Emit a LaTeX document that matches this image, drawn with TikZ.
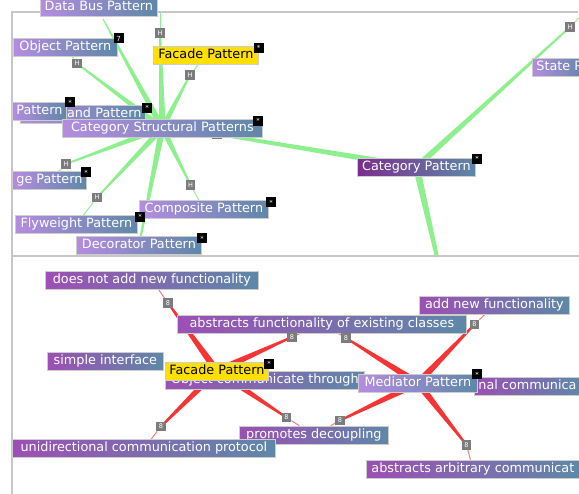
\documentclass[tikz,border=0pt]{standalone}
\usepackage{fontspec}
\setmainfont{DejaVu Sans}
\usepackage{tikz}
\usetikzlibrary{calc}
\definecolor{lilac}{HTML}{B48CE0}
\definecolor{steel}{HTML}{5E88A8}
\definecolor{plum}{HTML}{7B2D8E}
\definecolor{orchid}{HTML}{9C4FB4}
\definecolor{facadeyellow}{HTML}{FFE000}
\definecolor{linkgreen}{HTML}{8EEF8E}
\definecolor{linkred}{HTML}{F53535}
\definecolor{badgegray}{HTML}{7C7C7C}
\definecolor{framegray}{HTML}{C6C6C6}
\pgfdeclarelayer{back}
\pgfdeclarelayer{links}
\pgfsetlayers{back,links,main}
\tikzset{
  termbase/.style={
    anchor=west,
    inner xsep=4pt,
    inner ysep=2.6pt,
    text height=9.7pt,
    text depth=3pt,
    font=\fontsize{12.8}{14}\selectfont,
    draw=black!20,
    line width=0.8pt
  },
  term/.style={termbase, text=white, left color=lilac, right color=steel},
  dimterm/.style={termbase, text=white, left color=orchid, right color=steel},
  darkterm/.style={termbase, text=white, left color=plum, right color=steel},
  facade/.style={termbase, fill=facadeyellow, text=black},
  starbadge/.style={fill=black, text=white, font=\fontsize{7}{7}\selectfont, minimum size=10pt, inner sep=0pt},
  hbadge/.style={fill=badgegray, text=white, font=\fontsize{6.5}{7}\selectfont, minimum size=9.5pt, inner sep=0pt},
  tailgreen/.style={draw=linkgreen, line width=0.9pt},
  tailred/.style={draw=linkred!70, line width=0.9pt},
  frame/.style={draw=framegray, line width=1.2pt}
}
% tapered link: colour, hub, end, half width at hub, half width at end
\newcommand{\spoke}[5]{%
  \fill[#1] ($(#2.center)!#4!90:(#3.center)$) -- ($(#2.center)!#4!-90:(#3.center)$)
    -- ($(#3.center)!#5!90:(#2.center)$) -- ($(#3.center)!#5!-90:(#2.center)$) -- cycle;
}
\begin{document}
\begin{tikzpicture}[x=1pt,y=-1pt]
\useasboundingbox (0,0) rectangle (579,494);
\begin{pgfonlayer}{back}
  \fill[white] (0,0) rectangle (579,494);
\end{pgfonlayer}

% panel frames
\draw[frame] (12,494) -- (12,12) -- (578,12);
\draw[frame] (12,256) -- (579,256);

% structural patterns panel
\node[term, minimum width=117pt] (db) at (40,7) {Data Bus Pattern};
\node[term, minimum width=104pt] (obj) at (13,47) {Object Pattern};
\node[starbadge] (objs) at (118.5,38.5) {7};
\node[hbadge] (h1) at (160,33) {H};
\node[hbadge] (h2) at (77,63.5) {H};
\node[facade, minimum width=105pt] (fac1) at (153,55) {Facade Pattern};
\node[starbadge] (fac1s) at (258.5,48) {*};
\node[hbadge] (h3) at (190,75) {H};
\node[term, text width=117pt, align=right] (andp) at (20,114.5) {and Pattern};
\node[starbadge] (andps) at (147,108) {*};
\node[term, minimum width=53pt] (pat) at (12,111) {Pattern};
\node[starbadge] (pats) at (70,102.5) {*};
\node[hbadge] (h7) at (217,134) {};
\node[term, minimum width=200pt] (csp) at (62,128) {Category Structural Patterns};
\node[starbadge] (csps) at (258,121) {*};
\node[darkterm, minimum width=118pt] (cp) at (357,167) {Category Pattern};
\node[starbadge] (cps) at (477,159) {*};
\node[hbadge] (h8) at (570,27) {H};
\node[term] (stp) at (532,67) {State P};
\node[hbadge] (h4) at (66,164) {H};
\node[term, minimum width=73pt] (ge) at (12,180.5) {ge Pattern};
\node[starbadge] (ges) at (86,172.5) {*};
\node[hbadge] (h5) at (97,197.5) {H};
\node[hbadge] (h6) at (190.5,185) {H};
\node[term, minimum width=129pt] (comp) at (139,209) {Composite Pattern};
\node[starbadge] (comps) at (271,202.5) {*};
\node[term, minimum width=122pt] (fly) at (15,224.5) {Flyweight Pattern};
\node[starbadge] (flys) at (140,217) {*};
\node[term, minimum width=125pt] (dec) at (76,245.5) {Decorator Pattern};
\node[starbadge] (decs) at (202,238.5) {*};
\coordinate (dbfoot) at (103,19);
\coordinate (topfoot) at (160,13);
\coordinate (cpup) at (583,14);
\coordinate (cpdown) at (437,257);

% facade / mediator panel
\node[dimterm, minimum width=213pt] (dna) at (45,280) {does not add new functionality};
\node[hbadge] (g1) at (168,303) {8};
\node[dimterm, minimum width=289pt] (asf) at (177,324) {abstracts functionality of existing classes};
\node[hbadge] (g2) at (292,337) {8};
\node[hbadge] (g3) at (346,338) {8};
\node[dimterm, minimum width=150pt] (anf) at (419,305) {add new functionality};
\node[hbadge] (g4) at (474.5,324.5) {8};
\node[dimterm, minimum width=116pt] (si) at (47,361) {simple interface};
\node[dimterm, minimum width=199pt] (objc) at (165,380.5) {Object communicate through};
\node[facade, minimum width=103pt] (fac2) at (165,371) {Facade Pattern};
\node[starbadge] (fac2s) at (269,364) {*};
\node[dimterm] (bid) at (474,386.5) {nal communica};
\node[term, minimum width=119pt] (med) at (358,383) {Mediator Pattern};
\node[starbadge] (meds) at (477,374.5) {*};
\node[dimterm, minimum width=149pt] (pd) at (239,435) {promotes decoupling};
\node[hbadge] (g5) at (161,426.5) {8};
\node[hbadge] (g6) at (286.5,417.5) {8};
\node[hbadge] (g7) at (340,420.5) {8};
\node[dimterm, minimum width=263pt] (ucp) at (12,448.5) {unidirectional communication protocol};
\node[dimterm, minimum width=213pt] (aac) at (366,469) {abstracts arbitrary communicat};
\node[hbadge] (g8) at (466.5,445) {8};

\begin{pgfonlayer}{links}
  \spoke{linkgreen}{csp}{dbfoot}{3.2pt}{0.5pt}
  \spoke{linkgreen}{csp}{h1}{3.4pt}{1pt}
  \spoke{linkgreen}{csp}{h2}{3pt}{0.8pt}
  \spoke{linkgreen}{csp}{h3}{3pt}{0.8pt}
  \spoke{linkgreen}{csp}{h4}{3pt}{0.8pt}
  \spoke{linkgreen}{csp}{h5}{3pt}{0.8pt}
  \spoke{linkgreen}{csp}{h6}{3pt}{0.8pt}
  \spoke{linkgreen}{csp}{dec}{3.2pt}{0.8pt}
  \spoke{linkgreen}{cp}{h7}{3pt}{1.6pt}
  \spoke{linkgreen}{cp}{h8}{3pt}{0.9pt}
  \spoke{linkgreen}{cp}{cpdown}{3.5pt}{2pt}
  \draw[tailgreen] (h1) -- (topfoot);
  \draw[tailgreen] (h2) -- (obj);
  \draw[tailgreen] (h3) -- (fac1);
  \draw[tailgreen] (h4) -- (ge);
  \draw[tailgreen] (h5) -- (fly);
  \draw[tailgreen] (h6) -- (comp);
  \draw[tailgreen] (h8) -- (cpup);

  \spoke{linkred}{fac2}{g1}{3.6pt}{1pt}
  \spoke{linkred}{fac2}{g2}{3.6pt}{1pt}
  \spoke{linkred}{fac2}{g5}{3.6pt}{1pt}
  \spoke{linkred}{fac2}{g6}{3.6pt}{1pt}
  \spoke{linkred}{med}{g3}{3.6pt}{1pt}
  \spoke{linkred}{med}{g4}{3.6pt}{1pt}
  \spoke{linkred}{med}{g7}{3.6pt}{1pt}
  \spoke{linkred}{med}{g8}{3.6pt}{1pt}
  \draw[tailred] (g1) -- (dna);
  \draw[tailred] (g2) -- (asf);
  \draw[tailred] (g3) -- (asf);
  \draw[tailred] (g4) -- (anf);
  \draw[tailred] (g5) -- (ucp);
  \draw[tailred] (g6) -- (pd);
  \draw[tailred] (g7) -- (pd);
  \draw[tailred] (g8) -- (aac);
\end{pgfonlayer}
\end{tikzpicture}
\end{document}
